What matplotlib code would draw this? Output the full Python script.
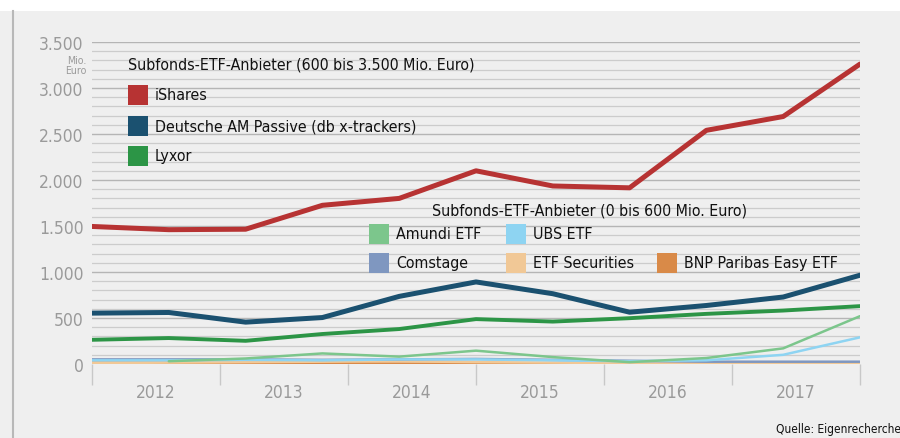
import numpy as np
import matplotlib
matplotlib.use("Agg")
from matplotlib import pyplot as plt
from matplotlib import font_manager
from matplotlib.patches import Rectangle
from matplotlib.ticker import FixedLocator, MultipleLocator

# the print uses a condensed grotesque, take whatever narrow face is installed
narrow = None
for f in font_manager.fontManager.ttflist:
    if f.stretch in ("condensed", "semi-condensed") or "Narrow" in f.name or "Condensed" in f.name:
        if f.weight in (400, "normal", "regular", "book"):
            narrow = f
            break
if narrow is not None:
    plt.rcParams['font.family'] = [narrow.name, 'DejaVu Sans']
    plt.rcParams['font.stretch'] = narrow.stretch
    scale = 1.0
else:
    plt.rcParams['font.family'] = ['DejaVu Sans']
    scale = 0.87

# half-yearly-ish sample points spread evenly from 2012 to 2018
x_pos = [2012 + i * 0.6 for i in range(11)]
years = ["2012", "2013", "2014", "2015", "2016", "2017"]

# Mio. Euro
ishares = [1495, 1460, 1465, 1725, 1800, 2100, 1935, 1915, 2540, 2690, 3260]
deutsche = [553, 560, 455, 505, 735, 892, 764, 563, 636, 728, 965]
lyxor = [263, 282, 252, 326, 380, 488, 461, 498, 545, 581, 629]
amundi = [np.nan, 30, 60, 115, 80, 145, 75, 20, 65, 170, 520]
ubs = [40, 40, 45, 40, 50, 50, 40, 30, 40, 100, 290]
comstage = [50, 50, 50, 45, 50, 55, 45, 35, 25, 25, 25]
etf_sec = [10, 15, 20, 25, 30, 20, 15, 10, 10, 10, 10]
bnp = [15, 15, 10, 10, 5, 5, 5, 5, 5, 5, 5]

big = [("iShares", ishares, "#b73333", 3.6),
       ("Deutsche AM Passive (db x-trackers)", deutsche, "#1b5170", 3.6),
       ("Lyxor", lyxor, "#2c9546", 2.8)]
small = [("Amundi ETF", amundi, "#7cc68c"),
         ("UBS ETF", ubs, "#8ed4f2"),
         ("Comstage", comstage, "#7f97c0"),
         ("ETF Securities", etf_sec, "#f1c896"),
         ("BNP Paribas Easy ETF", bnp, "#d98a48")]

bg = "#efefef"
grey = "#9a9a9a"
fs = 11.4 * scale

fig = plt.figure(figsize=(9, 4.39), dpi=100, facecolor=bg)
fig.patches.append(Rectangle((0, 1 - 12 / 439), 1, 12 / 439, transform=fig.transFigure,
                             facecolor="white", edgecolor="none", zorder=0))
fig.add_artist(plt.Line2D([13 / 900, 13 / 900], [0, 1 - 12 / 439], transform=fig.transFigure,
                          color="#b8b8b8", lw=1.5))

ax = fig.add_axes([92 / 900, 1 - 365 / 439, 768 / 900, 322 / 439])
ax.set_facecolor(bg)

# small providers first so the big lines sit on top
for name, vals, col in reversed(small):
    ax.plot(x_pos, vals, color=col, lw=1.8, solid_capstyle="round", zorder=3)
for name, vals, col, lw in reversed(big):
    ax.plot(x_pos, vals, color=col, lw=lw, solid_capstyle="round", zorder=4)

ax.set_xlim(2012, 2018)
ax.set_ylim(0, 3500)
for s in ax.spines.values():
    s.set_visible(False)

ax.yaxis.set_minor_locator(MultipleLocator(100))
ax.set_yticks(np.arange(0, 3501, 500))
ax.set_yticklabels([f"{v:,}".replace(",", ".") for v in range(0, 3501, 500)])
ax.grid(axis="y", which="major", color="#b5b5b5", lw=1.0, zorder=1)
ax.grid(axis="y", which="minor", color="#cccccc", lw=0.9, zorder=1)
ax.tick_params(axis="y", which="both", length=0, pad=6, labelsize=12.5 * scale, labelcolor=grey)

ax.xaxis.set_major_locator(FixedLocator(range(2012, 2019)))
ax.xaxis.set_minor_locator(FixedLocator([y + 0.5 for y in range(2012, 2018)]))
ax.set_xticklabels([], minor=False)
ax.set_xticklabels(years, minor=True)
ax.tick_params(axis="x", which="major", length=15, width=1, color="#c8c8c8", direction="out")
ax.tick_params(axis="x", which="minor", length=0, pad=14, labelsize=12.5 * scale, labelcolor=grey)

fig.text(86 / 900, 1 - 60.5 / 439, "Mio.", ha="right", va="center", fontsize=7.6 * scale, color=grey)
fig.text(86 / 900, 1 - 71.5 / 439, "Euro", ha="right", va="center", fontsize=7.6 * scale, color=grey)


def px(x, y):
    return x / 900, 1 - y / 439


def legend_item(x, y, label, col):
    fig.patches.append(Rectangle(px(x, y + 10), 20 / 900, 20 / 439, transform=fig.transFigure,
                                 facecolor=col, edgecolor="none", zorder=5))
    fig.text(*px(x + 27, y), label, ha="left", va="center", fontsize=fs, color="#111111")


fig.text(*px(128, 65), "Subfonds-ETF-Anbieter (600 bis 3.500 Mio. Euro)", ha="left", va="center",
         fontsize=fs, color="#111111")
for i, (name, vals, col, lw) in enumerate(big):
    legend_item(128, 96 + i * 30.5, name, col)

fig.text(*px(432, 211), "Subfonds-ETF-Anbieter (0 bis 600 Mio. Euro)", ha="left", va="center",
         fontsize=fs, color="#111111")
slots = [(369, 235), (506, 235), (369, 264), (506, 264), (657, 264)]
for (sx, sy), (name, vals, col) in zip(slots, small):
    legend_item(sx, sy, name, col)

fig.text(*px(776, 430), "Quelle: Eigenrecherche", ha="left", va="center", fontsize=8.6 * scale,
         color="#111111")

fig.savefig("out.png", dpi=100, facecolor=bg)
